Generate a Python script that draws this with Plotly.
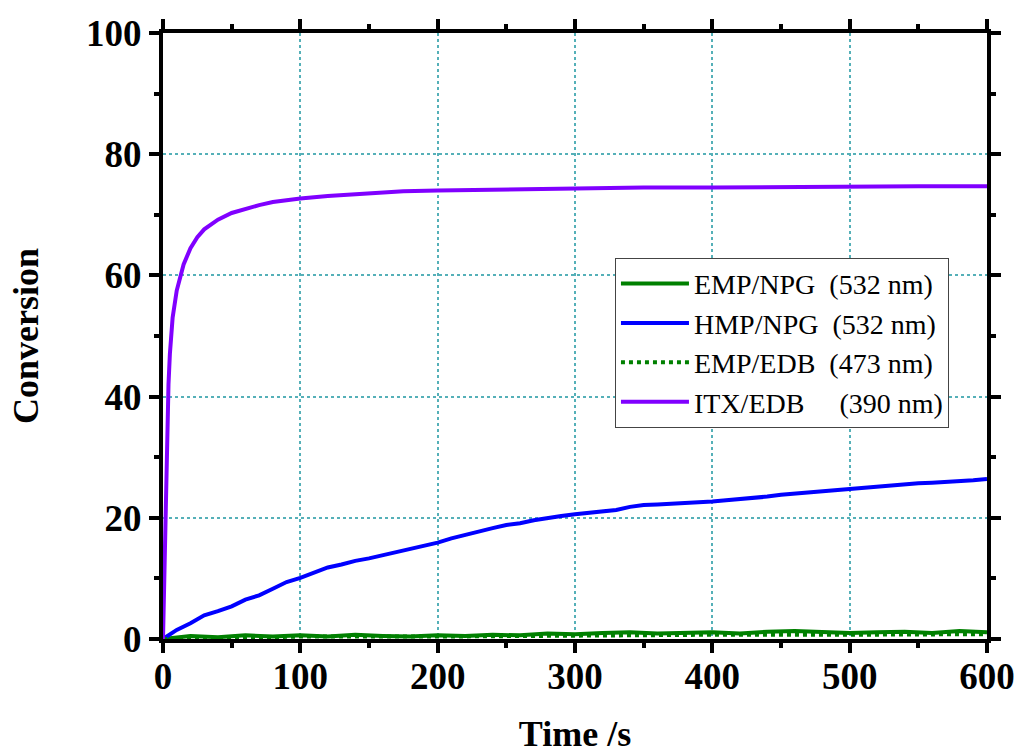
import plotly.graph_objects as go

# ITX/EDB (390 nm)
itx_t = [0, 1, 2, 3, 4, 5, 7, 10, 12, 15, 20, 25, 30, 40, 50, 60, 70, 80, 90, 100,
         120, 150, 175, 200, 250, 300, 350, 400, 450, 500, 550, 600]
itx_v = [0, 10, 25, 35, 42, 47, 53, 57.5, 59.5, 61.8, 64.5, 66.3, 67.6, 69.2, 70.3, 71.0, 71.6, 72.1, 72.4, 72.7,
         73.1, 73.6, 73.9, 74.0, 74.2, 74.4, 74.5, 74.5, 74.6, 74.6, 74.7, 74.7]

# HMP/NPG (532 nm)
hmp_t = list(range(0, 601, 10))
hmp_v = [0.0, 1.5, 2.6, 3.9, 4.6, 5.4, 6.5, 7.2, 8.3, 9.4,
         10.1, 11.0, 11.8, 12.3, 12.9, 13.3, 13.8, 14.3, 14.9, 15.3,
         15.9, 16.6, 17.2, 17.7, 18.3, 18.8, 19.1, 19.6, 20.0, 20.3,
         20.6, 20.8, 21.0, 21.3, 21.8, 22.1, 22.2, 22.3, 22.4, 22.6,
         22.7, 22.9, 23.1, 23.2, 23.5, 23.8, 24.0, 24.1, 24.4, 24.5,
         24.8, 25.0, 25.2, 25.3, 25.6, 25.7, 25.8, 25.9, 26.1, 26.2, 26.4]

# EMP/NPG (532 nm)
emp_npg_t = list(range(0, 601, 20))
emp_npg_v = [0.0, 0.5, 0.3, 0.6, 0.4, 0.6, 0.4, 0.7, 0.5, 0.4, 0.6, 0.5, 0.7, 0.6, 0.9, 0.8,
             1.0, 1.1, 0.9, 1.0, 1.1, 0.9, 1.2, 1.3, 1.1, 1.0, 1.1, 1.2, 1.0, 1.3, 1.1]

# EMP/EDB (473 nm)
emp_edb_t = [0, 100, 200, 300, 400, 500, 600]
emp_edb_v = [0.0, 0.4, 0.4, 0.6, 0.7, 0.7, 0.8]

NB = "\u00a0"
names = ["EMP/NPG" + NB * 2 + "(532 nm)",
         "HMP/NPG" + NB * 2 + "(532 nm)",
         "EMP/EDB" + NB * 2 + "(473 nm)",
         "ITX/EDB" + NB * 5 + "(390 nm)"]

fig = go.Figure()
fig.add_trace(go.Scatter(x=emp_npg_t, y=emp_npg_v, mode="lines", name=names[0],
                         line=dict(color="#008000", width=4)))
fig.add_trace(go.Scatter(x=hmp_t, y=hmp_v, mode="lines", name=names[1],
                         line=dict(color="#0000ff", width=4)))
fig.add_trace(go.Scatter(x=emp_edb_t, y=emp_edb_v, mode="lines", name=names[2],
                         line=dict(color="#008000", width=4, dash="dot")))
fig.add_trace(go.Scatter(x=itx_t, y=itx_v, mode="lines", name=names[3],
                         line=dict(color="#8000ff", width=4)))

font_family = "Liberation Serif"
grid_color = "#55b0b8"

fig.update_layout(
    width=1018, height=754,
    margin=dict(l=163, r=31, t=33, b=115, autoexpand=False),
    paper_bgcolor="white", plot_bgcolor="white",
    font=dict(family=font_family, color="black"),
    showlegend=True,
    legend=dict(x=0.5485, y=0.629, xanchor="left", yanchor="top",
                bgcolor="white", bordercolor="#444", borderwidth=1,
                font=dict(family=font_family, size=28, color="black"),
                itemwidth=68, tracegroupgap=0),
)

fig.update_xaxes(
    range=[0, 600], tickvals=[0, 100, 200, 300, 400, 500, 600],
    showline=True, linecolor="black", linewidth=4, mirror="allticks",
    ticks="outside", ticklen=10, tickwidth=4, tickcolor="black",
    minor=dict(dtick=50, ticks="outside", ticklen=5, tickwidth=4, tickcolor="black", showgrid=False),
    showgrid=True, gridcolor=grid_color, griddash="dot", gridwidth=1.5,
    zeroline=False, ticklabelstandoff=-8, ticklabeloverflow="allow",
    tickfont=dict(family=font_family, size=37, color="black", weight="bold"),
    title=dict(text="<b>Time /s</b>", font=dict(family=font_family, size=36, color="black"), standoff=46),
    automargin=False,
)
fig.update_yaxes(
    range=[0, 100], tickvals=[0, 20, 40, 60, 80, 100],
    showline=True, linecolor="black", linewidth=4, mirror="allticks",
    ticks="outside", ticklen=10, tickwidth=4, tickcolor="black",
    minor=dict(dtick=10, ticks="outside", ticklen=5, tickwidth=4, tickcolor="black", showgrid=False),
    showgrid=True, gridcolor=grid_color, griddash="dot", gridwidth=1.5,
    zeroline=False,
    tickfont=dict(family=font_family, size=37, color="black", weight="bold"),
    title=dict(text="<b>Conversion</b>", font=dict(family=font_family, size=36, color="black"), standoff=37),
    automargin=False,
)

fig.write_html("out.html", config={"displayModeBar": False},
               post_script="document.body.style.margin='0';document.body.style.overflow='hidden';")
